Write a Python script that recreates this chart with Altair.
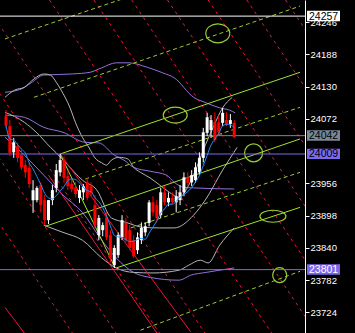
import altair as alt
import pandas as pd

# ---------------- candles (bar index t = 0..59) ----------------
opens  = [24077,24059,24012,24023,24007,23989,23984,23926,23926,23953,23926,23890,23926,23948,23976,23998,23969,23955,23949,23930,
          23940,23958,23951,23917,23863,23872,23895,23863,23809,23827,23859,23885,23872,23854,23836,23854,23868,23885,23922,23917,
          23899,23940,23922,23930,23922,23926,23940,23967,23958,23962,23976,24002,24047,24052,24066,24066,24065,24070,24063,24065]
highs  = [24088,24070,24038,24029,24016,23998,23993,23962,23951,23958,23935,23926,23953,23991,24009,24005,23980,23966,23958,23953,
          23955,23966,23958,23935,23899,23886,23904,23872,23845,23868,23899,23894,23881,23863,23868,23886,23886,23926,23933,23926,
          23948,23951,23940,23940,23944,23953,23976,23976,23980,23994,24012,24056,24083,24079,24084,24079,24092,24084,24081,24070]
lows   = [24056,24005,24002,23994,23980,23966,23948,23903,23922,23904,23881,23883,23917,23940,23969,23957,23944,23940,23931,23921,
          23926,23926,23933,23876,23854,23861,23854,23814,23804,23822,23854,23850,23836,23822,23829,23847,23861,23879,23897,23886,
          23894,23917,23915,23919,23904,23917,23933,23951,23951,23957,23971,23994,24041,24038,24030,24043,24059,24059,24056,24038]
closes = [24061,24011,24030,24002,23985,23976,23955,23944,23948,23917,23890,23926,23944,23980,23998,23966,23951,23946,23937,23944,
          23951,23930,23939,23881,23894,23881,23859,23822,23840,23863,23890,23854,23840,23825,23859,23876,23879,23922,23904,23894,
          23940,23922,23930,23922,23933,23940,23967,23957,23971,23985,24002,24048,24075,24070,24034,24048,24083,24063,24070,24039]

# ---------------- indicator curves ----------------
purple_up_t = [-0.25, 4.0, 6.5, 9.75, 17.25, 21.75, 24.75, 28.5, 31.75, 36.5, 40.5, 43.5, 48.5, 51.75, 55.25, 57.75, 59.25]
purple_up_p = [24120, 24126, 24137, 24151, 24153, 24156, 24164, 24173, 24173, 24165, 24155, 24146, 24111, 24101, 24092, 24088, 24083]
purple_mid_t = [-0.25, 4.75, 9.75, 14.75, 20.5, 24.0, 28.0, 30.5, 33.0, 37.25, 41.5, 43.5, 46.0, 48.5, 59.0]
purple_mid_p = [24079, 24075, 24057, 24048, 24030, 24029, 24007, 23998, 23985, 23978, 23971, 23958, 23949, 23948, 23946]
purple_lo_t = [-0.25, 4.75, 9.75, 14.75, 19.75, 24.75, 28.5, 33.0, 37.25, 44.75, 47.75, 51.75, 55.25, 59.0]
purple_lo_p = [24039, 24007, 23971, 23935, 23904, 23854, 23822, 23796, 23787, 23782, 23791, 23796, 23800, 23804]

grey_up_t = [-0.25, 2.25, 4.75, 7.25, 9.75, 11.5, 13.0, 14.25, 16.5, 18.0, 19.75, 21.5, 23.0, 24.75, 26.0, 27.25, 29.25, 31.5,
             33.0, 34.75, 37.25, 39.75, 42.25, 44.75, 47.25, 49.25, 51.0, 53.5, 56.0, 58.5]
grey_up_p = [24111, 24124, 24129, 24144, 24153, 24151, 24138, 24124, 24093, 24065, 24039, 24020, 24002, 23993, 23989, 23998, 24003, 24000,
             23985, 23976, 23966, 23953, 23940, 23931, 23953, 23984, 24016, 24056, 24092, 24111]
grey_mid_t = [-0.25, 4.75, 8.0, 11.5, 13.0, 16.0, 19.75, 23.5, 27.25, 31.0, 35.5, 39.75, 43.5, 48.5, 51.5, 56.0, 59.75]
grey_mid_p = [24084, 24066, 24047, 24021, 24011, 23989, 23962, 23944, 23894, 23886, 23877, 23876, 23876, 23899, 23926, 23980, 24021]
grey_lo_t = [9.75, 14.75, 19.75, 24.75, 28.5, 33.0, 38.0, 44.75, 47.25, 50.25, 52.25, 55.25, 59.0]
grey_lo_p = [23881, 23868, 23854, 23822, 23804, 23796, 23795, 23800, 23809, 23818, 23813, 23845, 23876]

# ---------------- drawn objects ----------------
hline_price = [24257, 24042, 24009, 23801]
hline_color = ["#FFFFFF", "#778899", "#7B68EE", "#7B68EE"]
label_text_color = ["#000000", "#000000", "#000000", "#FFFFFF"]

green_solid_t1 = [14.0, 10.25, 28.5, 14.0]
green_solid_p1 = [24009, 23879, 23804, 24009]
green_solid_t2 = [76.0, 76.0, 76.0, 28.25]
green_solid_p2 = [24156, 24036, 23913, 23804]

green_dash_t1 = [-0.25, 7.25, 20.5, 32.25, 34.75]
green_dash_p1 = [24216, 24111, 23964, 23876, 23692]
green_dash_t2 = [32.25, 76.0, 76.0, 76.0, 76.0]
green_dash_p2 = [24293, 24275, 24093, 23976, 23798]

red_dash_t1 = [-40.25, -29.0, -17.75, -6.0, 11.25, 22.75, 32.5, 41.75, 52.25, 62.25, 72.25]
red_dash_p1 = [24286] * 11
red_dash_t2 = [19.75, 31.0, 42.25, 54.0, 71.25, 82.75, 92.5, 101.75, 112.25, 122.25, 132.25]
red_dash_p2 = [23660] * 11

red_solid_t1 = [14.0, 11.0, -0.25]
red_solid_p1 = [24009, 23971, 23733]
red_solid_t2 = [47.75, 39.0, 4.75]
red_solid_p2 = [23689, 23687, 23687]

ell_t = [54.75, 43.75, 64.0, 69.0, 70.75]
ell_p = [24226, 24079, 24011, 23897, 23791]
ell_rx = [12, 12, 9, 13, 7]
ell_ry = [9.5, 8, 9, 6, 7.5]

tick_values = [23724, 23782, 23840, 23898, 23956, 24072, 24130, 24188, 24246]

X_DOMAIN = [-0.25, 76.0]
Y_DOMAIN = [23687, 24286]
W, H = 305, 333

xs = alt.Scale(domain=X_DOMAIN, nice=False, zero=False)
ys = alt.Scale(domain=Y_DOMAIN, nice=False, zero=False)
YAX = alt.Axis(orient="right", values=tick_values, format="d", title=None, grid=False,
               domainColor="#FFFFFF", tickColor="#FFFFFF", labelColor="#FFFFFF", tickSize=4, labelPadding=1,
               labelFont="Liberation Sans", labelFontSize=9.5, labelFlush=False, labelOverlap=False)

cdf = pd.DataFrame({"t": list(range(len(opens))), "open": opens, "high": highs, "low": lows, "close": closes})

def segs(t1, p1, t2, p2):
    rows = []
    for i in range(len(t1)):
        rows.append({"id": i, "t": t1[i], "p": p1[i]})
        rows.append({"id": i, "t": t2[i], "p": p2[i]})
    return pd.DataFrame(rows)

def curve(name, ts, ps):
    return pd.DataFrame({"id": name, "t": ts, "p": ps, "o": range(len(ts))})

def XE(f="t"):
    return alt.X(f + ":Q", scale=xs, axis=None)

def YE(f="p"):
    return alt.Y(f + ":Q", scale=ys, axis=YAX)

candle_color = alt.condition("datum.close >= datum.open", alt.value("#FFFFFF"), alt.value("#FF0000"))

wicks = alt.Chart(cdf).mark_rule(strokeWidth=1, clip=True).encode(
    x=XE(), y=YE("low"), y2="high:Q", color=candle_color)
bodies = alt.Chart(cdf).mark_bar(width=3, clip=True).encode(
    x=XE(), y=YE("open"), y2="close:Q", color=candle_color)

ma = alt.Chart(cdf).transform_window(
    ma="mean(close)", frame=[-5, 0], sort=[alt.SortField("t")]
).mark_line(color="#1E90FF", strokeWidth=1, clip=True, interpolate="monotone").encode(
    x=XE(), y=YE("ma"))

def curve_layer(df, color):
    return alt.Chart(df).mark_line(color=color, strokeWidth=1, clip=True, interpolate="monotone").encode(
        x=XE(), y=YE(), detail="id:N", order="o:Q")

purple = curve_layer(pd.concat([curve("a", purple_up_t, purple_up_p), curve("b", purple_mid_t, purple_mid_p),
                                curve("c", purple_lo_t, purple_lo_p)]), "#9370DB")
grey = curve_layer(pd.concat([curve("a", grey_up_t, grey_up_p), curve("b", grey_mid_t, grey_mid_p),
                              curve("c", grey_lo_t, grey_lo_p)]), "#B4B4B4")

hdf = pd.DataFrame({"p": hline_price, "c": hline_color, "tc": label_text_color,
                    "lab": [str(v) for v in hline_price]})
hlines = alt.Chart(hdf).mark_rule(strokeWidth=1).encode(
    y=YE(), color=alt.Color("c:N", scale=None))

green_solid = alt.Chart(segs(green_solid_t1, green_solid_p1, green_solid_t2, green_solid_p2)).mark_line(
    color="#9FE22B", strokeWidth=1, clip=True).encode(x=XE(), y=YE(), detail="id:N")
green_dash = alt.Chart(segs(green_dash_t1, green_dash_p1, green_dash_t2, green_dash_p2)).mark_line(
    color="#9ACD32", strokeWidth=1, strokeDash=[4, 3], clip=True).encode(x=XE(), y=YE(), detail="id:N")
red_dash = alt.Chart(segs(red_dash_t1, red_dash_p1, red_dash_t2, red_dash_p2)).mark_line(
    color="#F0143C", strokeWidth=1, strokeDash=[3, 4], clip=True).encode(x=XE(), y=YE(), detail="id:N")
red_solid = alt.Chart(segs(red_solid_t1, red_solid_p1, red_solid_t2, red_solid_p2)).mark_line(
    color="#F0143C", strokeWidth=1, clip=True).encode(x=XE(), y=YE(), detail="id:N")

edf = pd.DataFrame({"t": ell_t, "p": ell_p,
                    "shape": ["M -1 0 A 1 %.3f 0 1 0 1 0 A 1 %.3f 0 1 0 -1 0" % (ry / rx, ry / rx) for rx, ry in zip(ell_rx, ell_ry)],
                    "size": [(2 * rx) ** 2 for rx in ell_rx]})
ellipses = alt.Chart(edf).mark_point(filled=False, color="#9ACD32", strokeWidth=1.2, opacity=1, clip=True).encode(
    x=XE(), y=YE(), shape=alt.Shape("shape:N", scale=None), size=alt.Size("size:Q", scale=None))

# price tags on the axis
tags = alt.Chart(hdf).transform_calculate(top="datum.p + 9.5", bot="datum.p - 9")
tag_rect = tags.mark_rect().encode(
    x=alt.value(307), x2=alt.value(340), y=YE("top"), y2="bot:Q",
    color=alt.Color("c:N", scale=None))
tag_text = alt.Chart(hdf).mark_text(align="left", baseline="middle", font="Liberation Sans", fontSize=10.5, dy=0.5).encode(
    x=alt.value(309), y=YE(), text="lab:N", color=alt.Color("tc:N", scale=None))

chart = alt.layer(
    purple, grey, red_dash, red_solid, green_dash, green_solid, ellipses,
    hlines, wicks, bodies, ma, tag_rect, tag_text
).properties(
    width=W, height=H, background="#000000",
    padding={"left": 0, "top": 0, "right": 50, "bottom": 0},
    autosize=alt.AutoSizeParams(type="none")
).configure_view(stroke=None)

chart.save("out.html", embed_options={"renderer": "svg", "actions": False})
